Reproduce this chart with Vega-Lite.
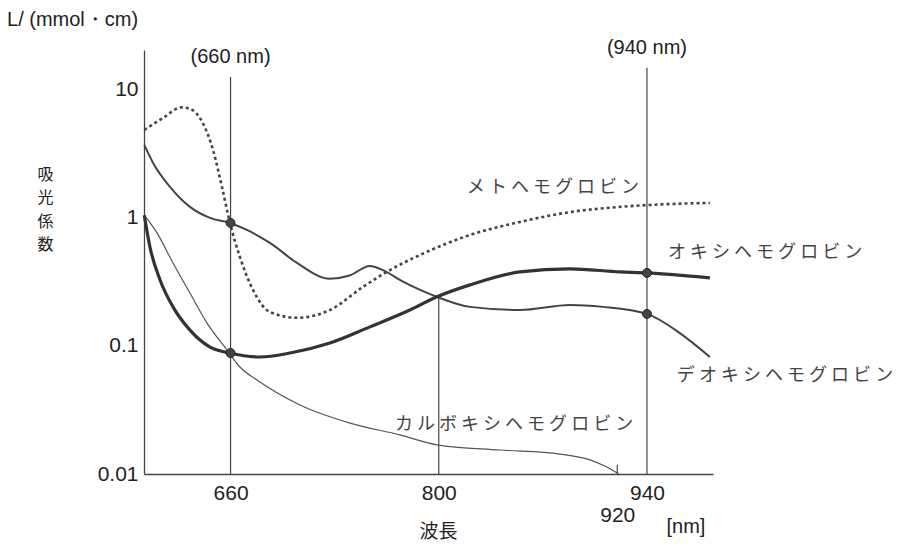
{
  "$schema": "https://vega.github.io/schema/vega-lite/v6.json",
  "width": 569,
  "height": 424,
  "autosize": {"type": "none"},
  "padding": {"left": 144, "top": 50, "right": 194, "bottom": 73},
  "background": "white",
  "config": {"view": {"stroke": null}, "font": "Liberation Sans"},
  "datasets": {
    "curves": [
      {"series": "M", "nm": 602, "v": 4.87}, {"series": "M", "nm": 614.6, "v": 6.04}, {"series": "M", "nm": 627, "v": 7.3}, {"series": "M", "nm": 634, "v": 7.0}, {"series": "M", "nm": 641, "v": 5.6}, {"series": "M", "nm": 648.2, "v": 3.4}, {"series": "M", "nm": 654.2, "v": 1.75}, {"series": "M", "nm": 659.6, "v": 0.914}, {"series": "M", "nm": 666.3, "v": 0.495}, {"series": "M", "nm": 675.1, "v": 0.274}, {"series": "M", "nm": 686.5, "v": 0.184}, {"series": "M", "nm": 704.7, "v": 0.166}, {"series": "M", "nm": 726.8, "v": 0.191}, {"series": "M", "nm": 749, "v": 0.289}, {"series": "M", "nm": 767.2, "v": 0.392}, {"series": "M", "nm": 787.4, "v": 0.514}, {"series": "M", "nm": 821, "v": 0.736}, {"series": "M", "nm": 854.6, "v": 0.931}, {"series": "M", "nm": 888.2, "v": 1.11}, {"series": "M", "nm": 921.8, "v": 1.22}, {"series": "M", "nm": 939.9, "v": 1.26}, {"series": "M", "nm": 982.3, "v": 1.31},
      {"series": "O", "nm": 602, "v": 1.05}, {"series": "O", "nm": 605.8, "v": 0.593}, {"series": "O", "nm": 612.6, "v": 0.328}, {"series": "O", "nm": 621.3, "v": 0.202}, {"series": "O", "nm": 632.7, "v": 0.133}, {"series": "O", "nm": 646.2, "v": 0.098}, {"series": "O", "nm": 659.6, "v": 0.0881}, {"series": "O", "nm": 679.8, "v": 0.082}, {"series": "O", "nm": 700, "v": 0.0881}, {"series": "O", "nm": 726.8, "v": 0.1055}, {"series": "O", "nm": 753.7, "v": 0.141}, {"series": "O", "nm": 780.6, "v": 0.191}, {"series": "O", "nm": 798.8, "v": 0.242}, {"series": "O", "nm": 821, "v": 0.3}, {"series": "O", "nm": 854.6, "v": 0.379}, {"series": "O", "nm": 888.2, "v": 0.4}, {"series": "O", "nm": 921.8, "v": 0.379}, {"series": "O", "nm": 939.9, "v": 0.372}, {"series": "O", "nm": 982.3, "v": 0.34},
      {"series": "D", "nm": 602, "v": 3.72}, {"series": "D", "nm": 607.9, "v": 2.69}, {"series": "D", "nm": 619.3, "v": 1.75}, {"series": "D", "nm": 632.7, "v": 1.22}, {"series": "D", "nm": 646.2, "v": 1.0}, {"series": "D", "nm": 659.6, "v": 0.914}, {"series": "D", "nm": 671, "v": 0.806}, {"series": "D", "nm": 686.5, "v": 0.638}, {"series": "D", "nm": 704.7, "v": 0.445}, {"series": "D", "nm": 726.8, "v": 0.335}, {"series": "D", "nm": 740, "v": 0.355}, {"series": "D", "nm": 753.7, "v": 0.422}, {"series": "D", "nm": 763.8, "v": 0.384}, {"series": "D", "nm": 775, "v": 0.322}, {"series": "D", "nm": 787.4, "v": 0.274}, {"series": "D", "nm": 798.8, "v": 0.242}, {"series": "D", "nm": 821, "v": 0.202}, {"series": "D", "nm": 854.6, "v": 0.191}, {"series": "D", "nm": 888.2, "v": 0.209}, {"series": "D", "nm": 910.4, "v": 0.202}, {"series": "D", "nm": 939.9, "v": 0.178}, {"series": "D", "nm": 962.1, "v": 0.126}, {"series": "D", "nm": 982.3, "v": 0.082},
      {"series": "C", "nm": 602, "v": 1.05}, {"series": "C", "nm": 610.5, "v": 0.764}, {"series": "C", "nm": 621.3, "v": 0.445}, {"series": "C", "nm": 632.7, "v": 0.259}, {"series": "C", "nm": 644.2, "v": 0.151}, {"series": "C", "nm": 657.6, "v": 0.093}, {"series": "C", "nm": 666.3, "v": 0.0685}, {"series": "C", "nm": 677.8, "v": 0.0542}, {"series": "C", "nm": 706.7, "v": 0.0346}, {"series": "C", "nm": 740.3, "v": 0.025}, {"series": "C", "nm": 773.9, "v": 0.0202}, {"series": "C", "nm": 798.8, "v": 0.0169}, {"series": "C", "nm": 841.1, "v": 0.0154}, {"series": "C", "nm": 881.5, "v": 0.0143}, {"series": "C", "nm": 901.6, "v": 0.0129}, {"series": "C", "nm": 912, "v": 0.0115}, {"series": "C", "nm": 921.1, "v": 0.01}
    ],
    "rules": [
      {"nm": 660, "v": 0.01, "v2": 12.6},
      {"nm": 940, "v": 0.01, "v2": 14.9},
      {"nm": 800, "v": 0.01, "v2": 0.242},
      {"nm": 920, "v": 0.01, "v2": 0.0118}
    ],
    "dots": [
      {"nm": 660, "v": 0.914}, {"nm": 660, "v": 0.0881}, {"nm": 940, "v": 0.372}, {"nm": 940, "v": 0.178}
    ],
    "jlabels": [
      {"nm": 818.9, "v": 1.72, "label": "メ ト ヘ モ グ ロ ビ ン"},
      {"nm": 954.1, "v": 0.533, "label": "オ キ シ ヘ モ グ ロ ビ ン"},
      {"nm": 960.1, "v": 0.0583, "label": "デ オ キ シ ヘ モ グ ロ ビ ン"},
      {"nm": 770.5, "v": 0.0241, "label": "カ ル ボ キ シ ヘ モ グ ロ ビ ン"}
    ],
    "clabels": [
      {"nm": 660, "v": 18.1, "label": "(660 nm)"},
      {"nm": 940, "v": 21.3, "label": "(940 nm)"},
      {"nm": 966.2, "v": 0.00385, "label": "[nm]"}
    ],
    "unit": [
      {"nm": 509.7, "v": 35.2, "label": "L/ (mmol・cm)"}
    ]
  },
  "encoding": {
    "x": {
      "field": "nm", "type": "quantitative",
      "scale": {"domain": [601.8, 984.4], "nice": false, "zero": false},
      "axis": {
        "values": [660, 800, 920, 940],
        "title": "波長",
        "ticks": false, "grid": false,
        "domainColor": "#444", "domainWidth": 1.3,
        "labelFont": "Liberation Sans", "labelFontSize": 21, "labelColor": "#222",
        "labelFlush": false, "labelOverlap": false,
        "labelPadding": {"condition": {"test": "datum.value === 920", "value": 30}, "value": 8},
        "titleFont": "Noto Sans CJK JP", "titleFontSize": 19, "titleFontWeight": "normal", "titleColor": "#222",
        "titleX": 294, "titleY": 57, "titleBaseline": "middle", "titleAlign": "center"
      }
    },
    "y": {
      "field": "v", "type": "quantitative",
      "scale": {"type": "log", "domain": [0.01, 20.5], "nice": false},
      "axis": {
        "values": [0.01, 0.1, 1, 10],
        "format": "~g",
        "ticks": false, "grid": false,
        "domainColor": "#444", "domainWidth": 1.3,
        "labelFont": "Liberation Sans", "labelFontSize": 21, "labelColor": "#222",
        "labelFlush": false, "labelPadding": 6,
        "title": ["吸", "光", "係", "数"],
        "titleAngle": 0, "titleFont": "Noto Sans CJK JP", "titleFontSize": 16, "titleFontWeight": "normal", "titleColor": "#222",
        "titleLineHeight": 23.5, "titleX": -99, "titleY": 116, "titleBaseline": "top", "titleAlign": "center"
      }
    }
  },
  "layer": [
    {
      "data": {"name": "rules"},
      "mark": {"type": "rule", "color": "#444", "strokeWidth": 1.2},
      "encoding": {"y2": {"field": "v2"}}
    },
    {
      "data": {"name": "curves"},
      "transform": [{"filter": "datum.series === 'C'"}],
      "mark": {"type": "line", "interpolate": "monotone", "color": "#555", "strokeWidth": 1.2}
    },
    {
      "data": {"name": "curves"},
      "transform": [{"filter": "datum.series === 'D'"}],
      "mark": {"type": "line", "interpolate": "monotone", "color": "#444", "strokeWidth": 2}
    },
    {
      "data": {"name": "curves"},
      "transform": [{"filter": "datum.series === 'O'"}],
      "mark": {"type": "line", "interpolate": "monotone", "color": "#333", "strokeWidth": 3.2}
    },
    {
      "data": {"name": "curves"},
      "transform": [{"filter": "datum.series === 'M'"}],
      "mark": {"type": "line", "interpolate": "monotone", "color": "#444", "strokeWidth": 2.6, "strokeDash": [3, 3]}
    },
    {
      "data": {"name": "dots"},
      "mark": {"type": "point", "filled": true, "color": "#444", "size": 80, "opacity": 1, "stroke": "#222", "strokeWidth": 1}
    },
    {
      "data": {"name": "jlabels"},
      "mark": {"type": "text", "align": "left", "baseline": "middle", "font": "Noto Sans CJK JP", "fontSize": 18, "color": "#444"},
      "encoding": {"text": {"field": "label"}}
    },
    {
      "data": {"name": "clabels"},
      "mark": {"type": "text", "align": "center", "baseline": "middle", "font": "Liberation Sans", "fontSize": 20, "color": "#222"},
      "encoding": {"text": {"field": "label"}}
    },
    {
      "data": {"name": "unit"},
      "mark": {"type": "text", "align": "left", "baseline": "middle", "font": "Liberation Sans", "fontSize": 20, "color": "#222"},
      "encoding": {"text": {"field": "label"}}
    }
  ]
}
